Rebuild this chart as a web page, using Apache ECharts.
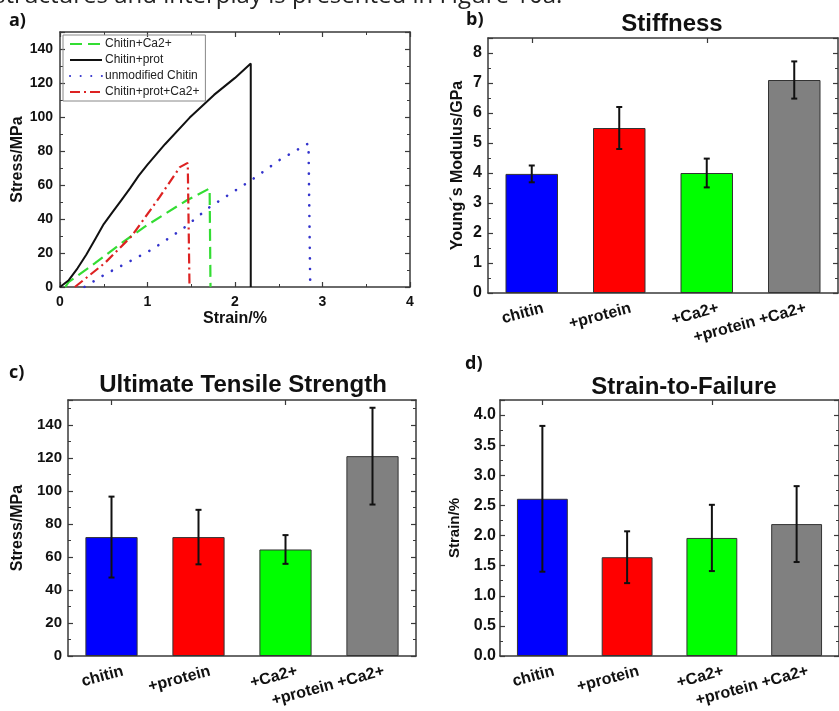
<!DOCTYPE html>
<html>
<head>
<meta charset="utf-8">
<script src="https://cdn.jsdelivr.net/npm/echarts@6/dist/echarts.min.js"></script>
<style>
  html, body { margin: 0; padding: 0; background: #fff; }
  #chart { width: 839px; height: 711px; }
</style>
</head>
<body>
<div id="chart"></div>
<script>
// ---- stress–strain curves (strain %, stress MPa) ----
const chitinCa = [[0.06,0],[0.1,3],[0.4,14],[0.7,25.7],[0.97,35.5],[1.2,43],[1.45,51],[1.71,58],[1.72,0]];
const chitinProt = [[0,0],[0.1,4],[0.2,11],[0.3,19],[0.4,28],[0.5,37],[0.6,44],[0.7,51],[0.8,58],[0.9,65.5],[1.0,72],[1.2,84],[1.48,99.5],[1.76,113],[2.0,123],[2.18,131.5],[2.18,0]];
const unmodChitin = [[0.28,0],[0.5,7],[0.7,12.5],[1.05,22],[1.41,34.5],[1.71,47],[2.19,63],[2.51,74.7],[2.84,84.5],[2.86,0]];
const chitinProtCa = [[0.17,0],[0.51,14],[0.82,30],[1.14,53],[1.37,70.5],[1.46,73],[1.48,72],[1.48,0]];

// ---- bar panels ----
const categories = ['chitin', '+protein', '+Ca2+', '+protein +Ca2+'];
const barColors = ['#0000ff', '#ff0000', '#00ff00', '#808080'];
const stiffness = [3.97, 5.5, 4.0, 7.1];
const stiffnessErr = [0.28, 0.7, 0.48, 0.62];
const strength = [72, 72, 64.5, 121];
const strengthErr = [24.5, 16.5, 8.7, 29.3];
const strainFail = [2.61, 1.64, 1.96, 2.19];
const strainFailErr = [1.21, 0.43, 0.55, 0.63];

const FONT = 'Liberation Sans';
const AXIS_COLOR = '#3a3a3a';
const lineStyleAxis = { color: AXIS_COLOR, width: 1.5 };

function valueAxis(gridIndex, position, min, max, interval, opts) {
  opts = opts || {};
  return {
    type: 'value', gridIndex, position, min, max, interval,
    axisLine: { show: true, onZero: false, lineStyle: lineStyleAxis },
    axisTick: { show: true, inside: true, length: 5, lineStyle: { color: AXIS_COLOR, width: 1.2 } },
    minorTick: { show: true, splitNumber: 2, length: 3, lineStyle: { color: AXIS_COLOR, width: 1 } },
    splitLine: { show: false },
    minorSplitLine: { show: false },
    axisLabel: opts.labels ? {
      show: true, fontFamily: FONT, fontWeight: 'bold', fontSize: opts.fontSize || 15,
      color: '#111', margin: opts.margin || 6, showMaxLabel: opts.showMax !== undefined ? opts.showMax : true,
      formatter: opts.formatter
    } : { show: false },
    name: opts.name || '',
    nameLocation: 'middle',
    nameGap: opts.nameGap || 30,
    nameTextStyle: { fontFamily: FONT, fontWeight: 'bold', fontSize: opts.nameSize || 16, color: '#111' }
  };
}

function catAxis(gridIndex, position, labels) {
  return {
    type: 'category', gridIndex, position, data: categories,
    axisLine: { show: true, onZero: false, lineStyle: lineStyleAxis },
    axisTick: { show: true, inside: true, alignWithLabel: true, length: 5, lineStyle: { color: AXIS_COLOR, width: 1.2 } },
    splitLine: { show: false },
    axisLabel: labels ? {
      show: true, rotate: 15, interval: 0, margin: 18,
      fontFamily: FONT, fontWeight: 'bold', fontSize: 16, color: '#111',
      padding: [0, -12, 0, 0]
    } : { show: false }
  };
}

function barSeries(idx, values) {
  return {
    type: 'bar', xAxisIndex: idx, yAxisIndex: idx, barWidth: '60%',
    data: values.map((v, i) => ({ value: v, itemStyle: { color: barColors[i] } })),
    itemStyle: { borderColor: '#333', borderWidth: 1 },
    silent: true
  };
}

function errorSeries(idx, values, errs) {
  return {
    type: 'custom', xAxisIndex: idx, yAxisIndex: idx, silent: true,
    data: values.map((v, i) => [i, v - errs[i], v + errs[i]]),
    encode: { x: 0, y: [1, 2] },
    renderItem: function (params, api) {
      const x = api.value(0);
      const top = api.coord([x, api.value(2)]);
      const bot = api.coord([x, api.value(1)]);
      const cap = 3;
      const st = { stroke: '#111', lineWidth: 2 };
      return {
        type: 'group',
        children: [
          { type: 'line', shape: { x1: top[0], y1: top[1], x2: bot[0], y2: bot[1] }, style: st },
          { type: 'line', shape: { x1: top[0] - cap, y1: top[1], x2: top[0] + cap, y2: top[1] }, style: st },
          { type: 'line', shape: { x1: bot[0] - cap, y1: bot[1], x2: bot[0] + cap, y2: bot[1] }, style: st }
        ]
      };
    },
    z: 5
  };
}

const chart = echarts.init(document.getElementById('chart'), null, { renderer: 'canvas' });

const option = {
  backgroundColor: '#fff',
  animation: false,
  title: [
    { text: 'Stiffness', left: 667, top: 7, textAlign: 'center',
      textStyle: { fontFamily: FONT, fontWeight: 'bold', fontSize: 24, color: '#111' } },
    { text: 'Ultimate Tensile Strength', left: 238, top: 368, textAlign: 'center',
      textStyle: { fontFamily: FONT, fontWeight: 'bold', fontSize: 24, color: '#111' } },
    { text: 'Strain-to-Failure', left: 679, top: 370, textAlign: 'center',
      textStyle: { fontFamily: FONT, fontWeight: 'bold', fontSize: 24, color: '#111' } }
  ],
  legend: {
    left: 63, top: 35, orient: 'vertical',
    data: ['Chitin+Ca2+', 'Chitin+prot', 'unmodified Chitin', 'Chitin+prot+Ca2+'],
    itemWidth: 32, itemHeight: 10, itemGap: 4,
    padding: [3, 6, 3, 6],
    borderColor: '#888', borderWidth: 1,
    itemStyle: { color: 'rgba(0,0,0,0)', borderColor: 'rgba(0,0,0,0)', borderWidth: 0 },
    textStyle: { fontFamily: FONT, fontSize: 12, color: '#222', padding: [0, 0, 0, -2] }
  },
  grid: [
    { left: 60, top: 32, width: 350, height: 255 },
    { left: 488, top: 38, width: 350, height: 255 },
    { left: 68, top: 400, width: 348, height: 256 },
    { left: 500, top: 400, width: 349, height: 256 }
  ],
  xAxis: [
    valueAxis(0, 'bottom', 0, 4, 1, { labels: true, fontSize: 14, margin: 8, name: 'Strain/%', nameGap: 24 }),
    valueAxis(0, 'top', 0, 4, 1, {}),
    catAxis(1, 'bottom', true),
    catAxis(1, 'top', false),
    catAxis(2, 'bottom', true),
    catAxis(2, 'top', false),
    catAxis(3, 'bottom', true),
    catAxis(3, 'top', false)
  ],
  yAxis: [
    valueAxis(0, 'left', 0, 150, 20, { labels: true, fontSize: 14, margin: 7, showMax: false, name: 'Stress/MPa', nameGap: 34 }),
    valueAxis(0, 'right', 0, 150, 20, {}),
    valueAxis(1, 'left', 0, 8.5, 1, { labels: true, fontSize: 16, margin: 6, showMax: false, name: 'Young´s Modulus/GPa', nameGap: 22 }),
    valueAxis(1, 'right', 0, 8.5, 1, {}),
    valueAxis(2, 'left', 0, 155, 20, { labels: true, fontSize: 15, margin: 6, showMax: false, name: 'Stress/MPa', nameGap: 42 }),
    valueAxis(2, 'right', 0, 155, 20, {}),
    valueAxis(3, 'left', 0, 4.25, 0.5, { labels: true, fontSize: 16, margin: 4, showMax: false, name: 'Strain/%', nameGap: 38, nameSize: 15,
      formatter: v => v.toFixed(1) }),
    valueAxis(3, 'right', 0, 4.25, 0.5, {})
  ],
  series: [
    { name: 'Chitin+Ca2+', type: 'line', xAxisIndex: 0, yAxisIndex: 0, data: chitinCa, symbol: 'none',
      lineStyle: { color: '#33dd33', width: 2.2, type: [12, 6] }, itemStyle: { color: '#33dd33' } },
    { name: 'Chitin+prot', type: 'line', xAxisIndex: 0, yAxisIndex: 0, data: chitinProt, symbol: 'none',
      lineStyle: { color: '#111', width: 2 }, itemStyle: { color: '#111' } },
    { name: 'unmodified Chitin', type: 'line', xAxisIndex: 0, yAxisIndex: 0, data: unmodChitin, symbol: 'none',
      lineStyle: { color: '#3333cc', width: 2.6, type: [0.1, 10.5], cap: 'round' }, itemStyle: { color: '#3333cc' } },
    { name: 'Chitin+prot+Ca2+', type: 'line', xAxisIndex: 0, yAxisIndex: 0, data: chitinProtCa, symbol: 'none',
      lineStyle: { color: '#dd2222', width: 2.2, type: [10, 4, 2, 4] }, itemStyle: { color: '#dd2222' } },

    barSeries(2, stiffness),
    errorSeries(2, stiffness, stiffnessErr),
    barSeries(4, strength),
    errorSeries(4, strength, strengthErr),
    barSeries(6, strainFail),
    errorSeries(6, strainFail, strainFailErr)
  ],
  graphic: [
    { type: 'text', left: -6, top: -16,
      style: { text: 'structures and interplay is presented in Figure 10a.', fontFamily: 'Open Sans', fontSize: 24, fill: '#222' } },
    { type: 'text', left: 9, top: 12, style: { text: 'a)', fontFamily: 'Open Sans', fontWeight: 'bold', fontSize: 18, fill: '#111' } },
    { type: 'text', left: 466, top: 11, style: { text: 'b)', fontFamily: 'Open Sans', fontWeight: 'bold', fontSize: 18, fill: '#111' } },
    { type: 'text', left: 9, top: 364, style: { text: 'c)', fontFamily: 'Open Sans', fontWeight: 'bold', fontSize: 18, fill: '#111' } },
    { type: 'text', left: 465, top: 355, style: { text: 'd)', fontFamily: 'Open Sans', fontWeight: 'bold', fontSize: 18, fill: '#111' } }
  ]
};

chart.setOption(option);
</script>
</body>
</html>
